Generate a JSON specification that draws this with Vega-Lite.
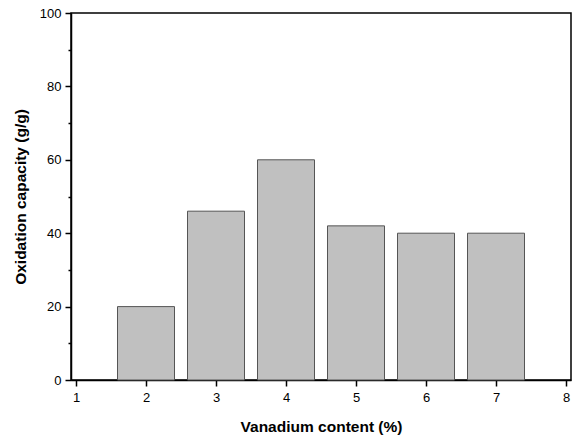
{
  "$schema": "https://vega.github.io/schema/vega-lite/v6.json",
  "autosize": "none",
  "width": 500,
  "height": 367,
  "padding": {"left": 71, "top": 13, "right": 6, "bottom": 57},
  "background": "white",
  "config": {
    "view": {"stroke": "black", "strokeWidth": 1.5},
    "axis": {"labelFont": "Liberation Sans", "labelFontSize": 13, "labelColor": "black", "titleFont": "Liberation Sans", "titleFontSize": 15.5, "titleFontWeight": "bold", "titleColor": "black", "domainColor": "black", "domainWidth": 1.5, "tickColor": "black", "tickWidth": 1.5, "grid": false}
  },
  "data": {"values": [
    {"v": 2, "cap": 20},
    {"v": 3, "cap": 46},
    {"v": 4, "cap": 60},
    {"v": 5, "cap": 42},
    {"v": 6, "cap": 40},
    {"v": 7, "cap": 40}
  ]},
  "mark": {"type": "bar", "size": 57, "fill": "#c0c0c0", "stroke": "#555555", "strokeWidth": 1},
  "encoding": {
    "x": {"field": "v", "type": "quantitative", "scale": {"domain": [1, 8], "nice": false, "zero": false},
      "axis": {"title": "Vanadium content (%)", "values": [1, 1.5, 2, 2.5, 3, 3.5, 4, 4.5, 5, 5.5, 6, 6.5, 7, 7.5, 8],
        "format": "d",
        "labelExpr": "datum.value % 1 === 0 ? datum.label : ''",
        "tickSize": {"condition": {"test": "datum.value % 1 !== 0", "value": 3}, "value": 6},
        "labelPadding": 5, "titlePadding": 15, "labelFlush": false, "labelOverlap": false}},
    "y": {"field": "cap", "type": "quantitative", "scale": {"domain": [0, 100], "nice": false},
      "axis": {"title": "Oxidation capacity (g/g)", "values": [0, 10, 20, 30, 40, 50, 60, 70, 80, 90, 100],
        "format": "d",
        "labelExpr": "datum.value % 20 === 0 ? datum.label : ''",
        "tickSize": {"condition": {"test": "datum.value % 20 !== 0", "value": 3}, "value": 6},
        "labelPadding": 4, "titlePadding": 11, "labelFlush": false, "labelOverlap": false}}
  }
}
